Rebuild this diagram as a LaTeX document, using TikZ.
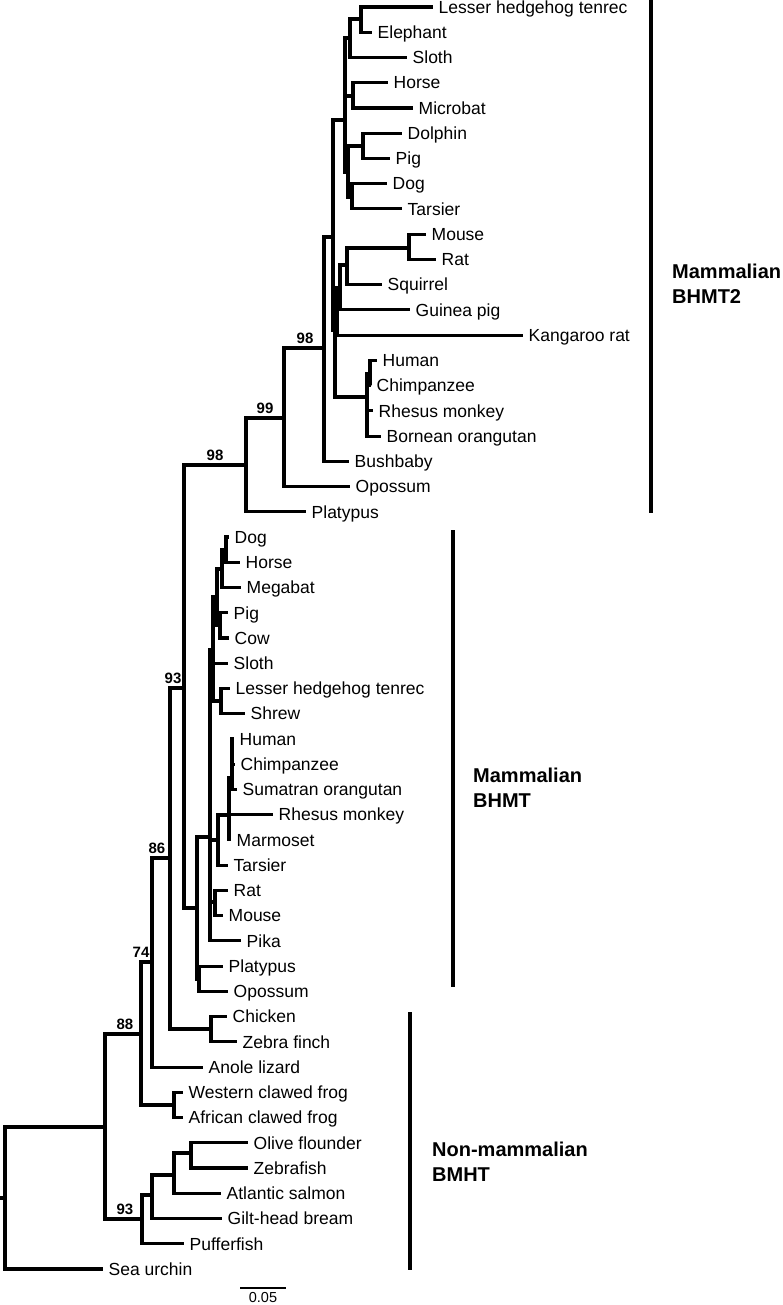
\documentclass[tikz,border=0pt]{standalone}
\usepackage{fontspec}
\setmainfont{Liberation Sans}
\newcommand\myleaf[4]{\coordinate (#1) at (#2,#3); \node[lab] (#1l) at (#1) {#4};}
\newcommand\edgeto[2]{\draw[br] (#1) |- (#2);}
\begin{document}
\begin{tikzpicture}[x=1pt,y=-1pt,
  br/.style={line width=3.1pt, line join=miter},
  lab/.style={anchor=base west, inner sep=0pt, xshift=5.5pt, yshift=-6.2pt, font=\fontsize{17.5}{20}\selectfont},
  bs/.style={anchor=south, inner sep=0pt, font=\fontsize{15}{16}\selectfont\bfseries},
  grp/.style={anchor=west, inner sep=0pt, align=left, font=\fontsize{20}{25}\selectfont\bfseries},
  bar/.style={line width=4pt}]
\useasboundingbox (0,0) rectangle (783,1305);
% ---- leaves ----
\myleaf{a0}{433}{7}{Lesser hedgehog tenrec}
\myleaf{a1}{372}{32.2}{Elephant}
\myleaf{a2}{407}{57.5}{Sloth}
\myleaf{a3}{388}{82.7}{Horse}
\myleaf{a4}{413}{108}{Microbat}
\myleaf{a5}{402}{133.2}{Dolphin}
\myleaf{a6}{390}{158.4}{Pig}
\myleaf{a7}{387}{183.7}{Dog}
\myleaf{a8}{402}{208.9}{Tarsier}
\myleaf{a9}{426}{234.2}{Mouse}
\myleaf{a10}{436}{259.4}{Rat}
\myleaf{a11}{382}{284.6}{Squirrel}
\myleaf{a12}{410}{309.9}{Guinea pig}
\myleaf{a13}{523}{335.1}{Kangaroo rat}
\myleaf{a14}{377}{360.4}{Human}
\myleaf{a15}{371}{385.6}{Chimpanzee}
\myleaf{a16}{373}{410.8}{Rhesus monkey}
\myleaf{a17}{381}{436.1}{Bornean orangutan}
\myleaf{a18}{349}{461.3}{Bushbaby}
\myleaf{a19}{350}{486.6}{Opossum}
\myleaf{a20}{306}{511.8}{Platypus}
\myleaf{b21}{229}{537}{Dog}
\myleaf{b22}{240}{562.3}{Horse}
\myleaf{b23}{241}{587.5}{Megabat}
\myleaf{b24}{228}{612.8}{Pig}
\myleaf{b25}{229}{638}{Cow}
\myleaf{b26}{228}{663.2}{Sloth}
\myleaf{b27}{230}{688.5}{Lesser hedgehog tenrec}
\myleaf{b28}{245}{713.7}{Shrew}
\myleaf{b29}{234}{739}{Human}
\myleaf{b30}{235}{764.2}{Chimpanzee}
\myleaf{b31}{237}{789.4}{Sumatran orangutan}
\myleaf{b32}{273}{814.7}{Rhesus monkey}
\myleaf{b33}{231}{839.9}{Marmoset}
\myleaf{b34}{228}{865.2}{Tarsier}
\myleaf{b35}{228}{890.4}{Rat}
\myleaf{b36}{223}{915.6}{Mouse}
\myleaf{b37}{241}{940.9}{Pika}
\myleaf{b38}{223}{966.1}{Platypus}
\myleaf{b39}{228}{991.4}{Opossum}
\myleaf{c40}{227}{1016.6}{Chicken}
\myleaf{c41}{237}{1041.8}{Zebra finch}
\myleaf{c42}{203}{1067.1}{Anole lizard}
\myleaf{c43}{183}{1092.3}{Western clawed frog}
\myleaf{c44}{183}{1117.6}{African clawed frog}
\myleaf{c45}{248}{1142.8}{Olive flounder}
\myleaf{c46}{248}{1168}{Zebrafish}
\myleaf{c47}{221}{1193.3}{Atlantic salmon}
\myleaf{c48}{222}{1218.5}{Gilt-head bream}
\myleaf{c49}{184}{1243.8}{Pufferfish}
\myleaf{c50}{103}{1269}{Sea urchin}
% ---- internal nodes ----
\coordinate (stub) at (0,1198);
\coordinate (root) at (5,1198);
\coordinate (n105) at (105,1127);
\coordinate (n88) at (141,1034);
\coordinate (n74) at (152,962);
\coordinate (n86) at (170,858);
\coordinate (n93m) at (184,688);
\coordinate (n98a) at (246,465);
\coordinate (n99) at (284,418);
\coordinate (n98b) at (324,348);
\coordinate (n333) at (333,237);
\coordinate (ntop) at (345,120);
\coordinate (n350) at (350,38);
\coordinate (nLE) at (361,19);
\coordinate (nHM) at (353,96);
\coordinate (n348) at (348,172);
\coordinate (nDP) at (363,146);
\coordinate (nDT) at (352,197);
\coordinate (nlow) at (335,330);
\coordinate (nrod) at (337,300);
\coordinate (n340) at (340,288);
\coordinate (n347) at (347,265);
\coordinate (nMR) at (409,248);
\coordinate (nprim) at (367,397);
\coordinate (nHC) at (370,374);
\coordinate (nB) at (197,908);
\coordinate (nPO) at (199,979);
\coordinate (nE) at (210,837);
\coordinate (nTopG) at (213,650);
\coordinate (nDC) at (217,597);
\coordinate (nDHM) at (222,569);
\coordinate (nDH) at (226,550);
\coordinate (nPC) at (220,625);
\coordinate (nLS) at (221,701);
\coordinate (nT) at (218,840);
\coordinate (nP2) at (229,815);
\coordinate (nGA) at (232,778);
\coordinate (nRM) at (215,902);
\coordinate (nbird) at (211,1029);
\coordinate (nfrog) at (174,1105);
\coordinate (n93f) at (142,1219);
\coordinate (nF1) at (152,1195);
\coordinate (nF2) at (174,1175);
\coordinate (nF3) at (191,1153);
% ---- edges ----
\draw[br] (stub) -- (root);
\edgeto{root}{n105}\edgeto{root}{c50}
\edgeto{n105}{n88}\edgeto{n105}{n93f}
\edgeto{n88}{n74}\edgeto{n88}{nfrog}
\edgeto{nfrog}{c43}\edgeto{nfrog}{c44}
\edgeto{n74}{n86}\edgeto{n74}{c42}
\edgeto{n86}{n93m}\edgeto{n86}{nbird}
\edgeto{nbird}{c40}\edgeto{nbird}{c41}
\edgeto{n93m}{n98a}\edgeto{n93m}{nB}
\edgeto{n98a}{n99}\edgeto{n98a}{a20}
\edgeto{n99}{n98b}\edgeto{n99}{a19}
\edgeto{n98b}{n333}\edgeto{n98b}{a18}
\edgeto{n333}{ntop}\edgeto{n333}{nlow}
\edgeto{ntop}{n350}\edgeto{ntop}{nHM}\edgeto{ntop}{n348}
\edgeto{n350}{nLE}\edgeto{n350}{a2}
\edgeto{nLE}{a0}\edgeto{nLE}{a1}
\edgeto{nHM}{a3}\edgeto{nHM}{a4}
\edgeto{n348}{nDP}\edgeto{n348}{nDT}
\edgeto{nDP}{a5}\edgeto{nDP}{a6}
\edgeto{nDT}{a7}\edgeto{nDT}{a8}
\edgeto{nlow}{nrod}\edgeto{nlow}{nprim}
\edgeto{nrod}{n340}\edgeto{nrod}{a13}
\edgeto{n340}{n347}\edgeto{n340}{a12}
\edgeto{n347}{nMR}\edgeto{n347}{a11}
\edgeto{nMR}{a9}\edgeto{nMR}{a10}
\edgeto{nprim}{nHC}\edgeto{nprim}{a16}\edgeto{nprim}{a17}
\edgeto{nHC}{a14}\edgeto{nHC}{a15}
\edgeto{nB}{nE}\edgeto{nB}{nPO}
\edgeto{nPO}{b38}\edgeto{nPO}{b39}
\edgeto{nE}{nTopG}\edgeto{nE}{nT}\edgeto{nE}{nRM}\edgeto{nE}{b37}
\edgeto{nTopG}{nDC}\edgeto{nTopG}{b26}\edgeto{nTopG}{nLS}
\edgeto{nDC}{nDHM}\edgeto{nDC}{nPC}
\edgeto{nDHM}{nDH}\edgeto{nDHM}{b23}
\edgeto{nDH}{b21}\edgeto{nDH}{b22}
\edgeto{nPC}{b24}\edgeto{nPC}{b25}
\edgeto{nLS}{b27}\edgeto{nLS}{b28}
\edgeto{nT}{nP2}\edgeto{nT}{b34}
\edgeto{nP2}{nGA}\edgeto{nP2}{b32}\edgeto{nP2}{b33}
\edgeto{nGA}{b29}\edgeto{nGA}{b30}\edgeto{nGA}{b31}
\edgeto{nRM}{b35}\edgeto{nRM}{b36}
\edgeto{n93f}{nF1}\edgeto{n93f}{c49}
\edgeto{nF1}{nF2}\edgeto{nF1}{c48}
\edgeto{nF2}{nF3}\edgeto{nF2}{c47}
\edgeto{nF3}{c45}\edgeto{nF3}{c46}
% ---- support values ----
\node[bs] (s88) at (125,1030) {88};
\node[bs] (s74) at (141,958) {74};
\node[bs] (s86) at (157,854) {86};
\node[bs] (s93m) at (173,684) {93};
\node[bs] (s98a) at (215,461) {98};
\node[bs] (s99) at (265,414) {99};
\node[bs] (s98b) at (305,344) {98};
\node[bs] (s93f) at (125,1215) {93};
% ---- group bars ----
\coordinate (g1a) at (651,0); \coordinate (g1b) at (651,513);
\coordinate (g2a) at (453,530); \coordinate (g2b) at (453,987);
\coordinate (g3a) at (410,1012); \coordinate (g3b) at (410,1270);
\draw[bar] (g1a) -- (g1b);
\draw[bar] (g2a) -- (g2b);
\draw[bar] (g3a) -- (g3b);
\node[grp] (t1) at (672,284) {Mammalian\\BHMT2};
\node[grp] (t2) at (473,788) {Mammalian\\BHMT};
\node[grp] (t3) at (432,1162) {Non-mammalian\\BMHT};
% ---- scale bar ----
\coordinate (sc1) at (240,1288); \coordinate (sc2) at (286,1288);
\draw[line width=1.5pt] (sc1) -- (sc2);
\node[anchor=north, inner sep=0pt, font=\fontsize{14.5}{16}\selectfont] (sclab) at (263,1292) {0.05};
\end{tikzpicture}
\end{document}
